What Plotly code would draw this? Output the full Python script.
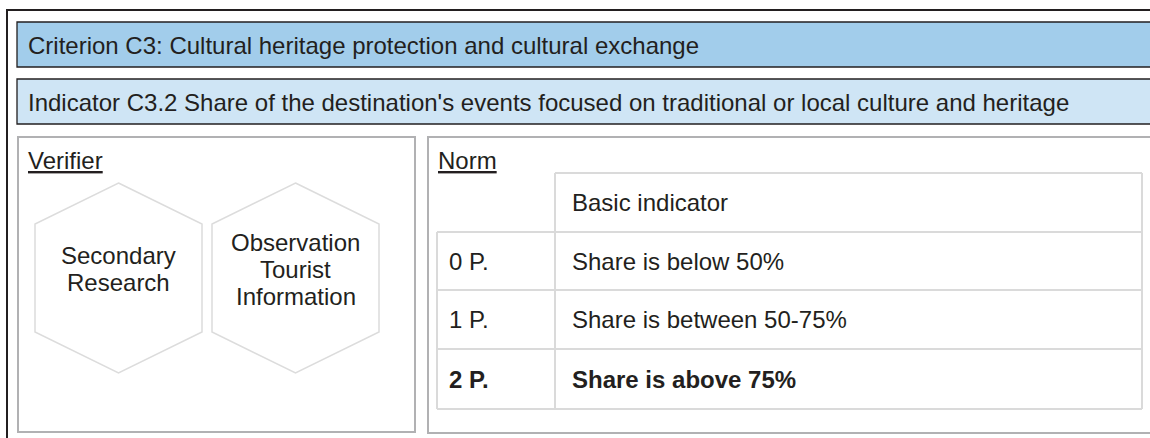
import plotly.graph_objects as go

# ---- content ----
criterion = "Criterion C3: Cultural heritage protection and cultural exchange"
indicator = "Indicator C3.2 Share of the destination's events focused on traditional or local culture and heritage"
verifier_title = "Verifier"
norm_title = "Norm"
verifiers = [["Secondary", "Research"], ["Observation", "Tourist", "Information"]]
table_header = "Basic indicator"
points = ["0 P.", "1 P.", "2 P."]
norms = ["Share is below 50%", "Share is between 50-75%", "Share is above 75%"]
bold_rows = [False, False, True]

# ---- style ----
W, H = 1150, 438
FONT = "Liberation Sans, Arial, sans-serif"
TXT = "#231F20"
FS = 24
BLUE_DARK = "#A2CDEB"
BLUE_LIGHT = "#CFE5F5"
BOX_GRAY = "#B1B1B3"
TABLE_GRAY = "#DADADA"
HEX_GRAY = "#DCDCDC"

fig = go.Figure()
shapes = []
ann = []

def text(x, y, s, bold=False, anchor="left", under=False, size=FS):
    if bold:
        s = "<b>" + s + "</b>"
    f = dict(family=FONT, size=size, color=TXT)
    if under:
        f["lineposition"] = "under"
    ann.append(dict(x=x, y=y, xref="x", yref="y", text=s, showarrow=False,
                    xanchor=anchor, yanchor="middle", font=f, borderpad=0))

# outer frame
shapes.append(dict(type="rect", x0=7, y0=10, x1=W + 50, y1=H + 50,
                   line=dict(color=TXT, width=2), fillcolor="rgba(0,0,0,0)"))
# header bars
shapes.append(dict(type="rect", x0=17, y0=22, x1=W + 50, y1=67,
                   line=dict(color=TXT, width=1.3), fillcolor=BLUE_DARK))
shapes.append(dict(type="rect", x0=17, y0=79, x1=W + 50, y1=124,
                   line=dict(color=TXT, width=1.3), fillcolor=BLUE_LIGHT))
text(27, 45, criterion)
text(27, 102, indicator)

# verifier & norm boxes
shapes.append(dict(type="rect", x0=18, y0=137, x1=415, y1=432,
                   line=dict(color=BOX_GRAY, width=2)))
shapes.append(dict(type="rect", x0=428, y0=137, x1=W + 50, y1=433,
                   line=dict(color=BOX_GRAY, width=2)))
text(27, 160, verifier_title, under=True)
text(437, 160, norm_title, under=True)

# hexagons
hex_cx = [118.5, 295.5]
hex_cy = 278
hw, htop, hsh = 83.5, 95, 54
line_pitch = 27
for cx, lines in zip(hex_cx, verifiers):
    pts = [(cx, hex_cy - htop), (cx + hw, hex_cy - hsh), (cx + hw, hex_cy + hsh),
           (cx, hex_cy + htop), (cx - hw, hex_cy + hsh), (cx - hw, hex_cy - hsh)]
    path = "M " + " L ".join(f"{px},{py}" for px, py in pts) + " Z"
    shapes.append(dict(type="path", path=path, line=dict(color=HEX_GRAY, width=1.5),
                       fillcolor="white"))
    n = len(lines)
    y0 = hex_cy - 9 - (n - 1) * line_pitch / 2
    for i, s in enumerate(lines):
        text(cx, y0 + i * line_pitch, s, anchor="center")

# norm table
col_x = [437, 555, 1142]
row_y = [173, 232, 290, 349, 409]
tl = dict(color=TABLE_GRAY, width=2)
shapes.append(dict(type="line", x0=col_x[1], x1=col_x[2], y0=row_y[0], y1=row_y[0], line=tl))
for ry in row_y[1:]:
    shapes.append(dict(type="line", x0=col_x[0], x1=col_x[2], y0=ry, y1=ry, line=tl))
shapes.append(dict(type="line", x0=col_x[0], x1=col_x[0], y0=row_y[1], y1=row_y[-1], line=tl))
for cx in col_x[1:]:
    shapes.append(dict(type="line", x0=cx, x1=cx, y0=row_y[0], y1=row_y[-1], line=tl))

text(col_x[1] + 16, (row_y[0] + row_y[1]) / 2, table_header)
for i, (p, nrm, b) in enumerate(zip(points, norms, bold_rows)):
    yc = (row_y[i + 1] + row_y[i + 2]) / 2
    text(col_x[0] + 11, yc, p, bold=b)
    text(col_x[1] + 16, yc, nrm, bold=b)

fig.update_layout(
    width=W, height=H, margin=dict(l=0, r=0, t=0, b=0),
    paper_bgcolor="white", plot_bgcolor="white",
    xaxis=dict(range=[0, W], visible=False, fixedrange=True),
    yaxis=dict(range=[H, 0], visible=False, fixedrange=True),
    shapes=shapes, annotations=ann, showlegend=False,
)
fig.write_html("out.html", config={"displayModeBar": False},
               post_script="document.body.style.margin='0';document.body.style.overflow='hidden';")
